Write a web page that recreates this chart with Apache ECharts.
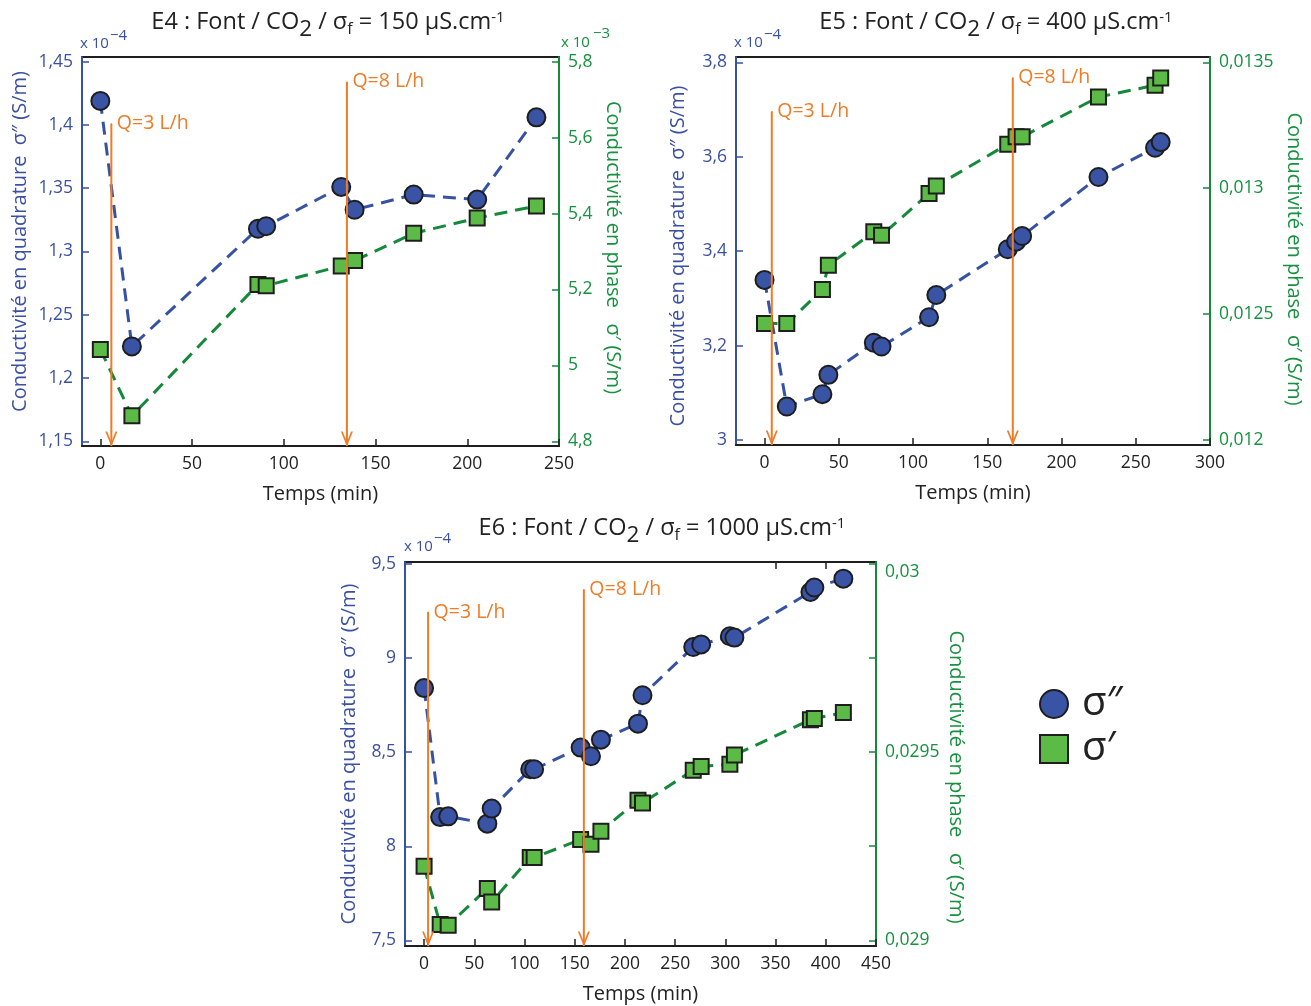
<!DOCTYPE html>
<html><head><meta charset="utf-8">
<script src="https://cdn.jsdelivr.net/npm/echarts@6/dist/echarts.min.js"></script>
<style>html,body{margin:0;padding:0;background:#fff}#c{width:1311px;height:1006px}</style>
</head><body><div id="c"></div>
<script>
// ---------- DATA ----------
// E4 (sigma'' in 1e-4 S/m, sigma' in 1e-3 S/m)
const e4Time  = [0, 17.2, 85.9, 90.4, 131.3, 138.6, 170.8, 205.4, 237.7];
const e4Quad  = [1.419, 1.225, 1.318, 1.320, 1.351, 1.333, 1.345, 1.341, 1.406];
const e4Phase = [5.042, 4.867, 5.213, 5.210, 5.262, 5.276, 5.348, 5.388, 5.420];
const e4FlowTime = [6.0, 134.4];
const e4FlowTop  = [1.401, 1.434];
// E5 (sigma'' in 1e-4 S/m, sigma' in S/m)
const e5Time  = [0, 15, 39, 43, 73.6, 78.8, 110.8, 115.7, 163.8, 169.4, 173.5, 224.9, 263, 266.8];
const e5Quad  = [3.339, 3.071, 3.097, 3.138, 3.206, 3.198, 3.260, 3.307, 3.404, 3.420, 3.432, 3.557, 3.619, 3.631];
const e5Phase = [0.012463, 0.012463, 0.012598, 0.012694, 0.012827, 0.012813, 0.012979, 0.013009, 0.013175, 0.013204, 0.013204, 0.013362, 0.013409, 0.013438];
const e5FlowTime = [4.9, 167.2];
const e5FlowTop  = [3.696, 3.767];
// E6 (sigma'' in 1e-4 S/m, sigma' in S/m)
const e6Time  = [0, 16, 24, 63, 67.3, 105.7, 109.6, 155.9, 166.2, 176.1, 213, 217.5, 268, 275.9, 304.5, 309, 384.7, 388.6, 417.5];
const e6Quad  = [8.840, 8.155, 8.159, 8.120, 8.200, 8.409, 8.409, 8.524, 8.478, 8.566, 8.651, 8.802, 9.058, 9.072, 9.115, 9.108, 9.350, 9.374, 9.421];
const e6Phase = [0.029197, 0.029042, 0.029040, 0.029138, 0.029102, 0.029220, 0.029220, 0.029268, 0.029255, 0.029290, 0.029372, 0.029365, 0.029452, 0.029462, 0.029468, 0.029492, 0.029586, 0.029589, 0.029605];
const e6FlowTime = [4.0, 159.1];
const e6FlowTop  = [9.244, 9.363];

const flowLabels = ['Q=3 L/h', 'Q=8 L/h'];
const seriesNames = ['σ″', 'σ′'];
const panelNames = ['E4', 'E5', 'E6'];
const panelSigmaF = ['150', '400', '1000'];

// tick values
const e4XTicks = [0, 50, 100, 150, 200, 250];
const e4QuadTicks = [1.15, 1.2, 1.25, 1.3, 1.35, 1.4, 1.45];
const e4PhaseTicks = [4.8, 5, 5.2, 5.4, 5.6, 5.8];
const e5XTicks = [0, 50, 100, 150, 200, 250, 300];
const e5QuadTicks = [3, 3.2, 3.4, 3.6, 3.8];
const e5PhaseTicks = [0.012, 0.0125, 0.013, 0.0135];
const e6XTicks = [0, 50, 100, 150, 200, 250, 300, 350, 400, 450];
const e6TopTicks = [350, 400];
const e6QuadTicks = [7.5, 8, 8.5, 9, 9.5];
const e6PhaseTicks = [0.029, 0.02925, 0.0295, 0.02975, 0.03];
const e6PhaseLabels = [0.029, 0.0295, 0.03];

// ---------- STYLE / LAYOUT ----------
const FONT = "'Open Sans', 'Noto Sans', sans-serif";
const BLUE_TXT = '#3b50a3', BLUE_LINE = '#3652a3', BLUE_FILL = '#3a54a5';
const GREEN_TXT = '#16913f', GREEN_LINE = '#15893a', GREEN_FILL = '#5cbb46';
const ORANGE = '#ef7b26', DARK = '#1e1e1e';
const ARROW = 'path://M0,0L6,16L12,0L10.2,0L6,11.2L1.8,0Z';

const panels = [
  { time: e4Time, quad: e4Quad, phase: e4Phase, flowTime: e4FlowTime, flowTop: e4FlowTop,
    xTicks: e4XTicks, quadTicks: e4QuadTicks, phaseTicks: e4PhaseTicks, phaseLabels: e4PhaseTicks,
    xr: [-10, 250], qr: [1.1463, 1.4537], pr: [4.7876, 5.8124],
    grid: { left: 82, top: 57, width: 477, height: 389 },
    lGap: 52, rGap: 44, lPad: [0, 0, 0, 20], rPad: [0, 8, 0, 0],
    title: { x: 328, y: 10 }, topLabelDrop: false },
  { time: e5Time, quad: e5Quad, phase: e5Phase, flowTime: e5FlowTime, flowTop: e5FlowTop,
    xTicks: e5XTicks, quadTicks: e5QuadTicks, phaseTicks: e5PhaseTicks, phaseLabels: e5PhaseTicks,
    xr: [-19.2, 300], qr: [2.9894, 3.8112], pr: [0.0119802, 0.013521],
    grid: { left: 736, top: 57, width: 474, height: 388 },
    lGap: 48, rGap: 74, lPad: [0, 10, 0, 0], rPad: [0, 0, 0, 16],
    title: { x: 996, y: 10 }, topLabelDrop: false },
  { time: e6Time, quad: e6Quad, phase: e6Phase, flowTime: e6FlowTime, flowTop: e6FlowTop,
    xTicks: e6XTicks, quadTicks: e6QuadTicks, phaseTicks: e6PhaseTicks, phaseLabels: e6PhaseLabels,
    xr: [-19, 450], qr: [7.4703, 9.5096], pr: [0.0289851, 0.0300048],
    grid: { left: 405, top: 562, width: 471, height: 384 },
    lGap: 46, rGap: 70, lPad: [0, 0, 0, 0], rPad: [0, 0, 0, 46],
    title: { x: 662, y: 516 }, topLabelDrop: true }
];

const expLabels = [
  { x: 80, y: 44, ex: 110, ey: 36, exp: '−4', color: BLUE_TXT },
  { x: 561, y: 43, ex: 593, ey: 34, exp: '−3', color: GREEN_TXT },
  { x: 734, y: 43, ex: 764, ey: 35, exp: '−4', color: BLUE_TXT },
  { x: 404, y: 547, ex: 434, ey: 539, exp: '−4', color: BLUE_TXT }
];

const fmt = v => String(+Number(v).toFixed(6)).replace('.', ',');

const option = {
  animation: false,
  backgroundColor: '#fff',
  textStyle: { fontFamily: FONT },
  title: [], grid: [], xAxis: [], yAxis: [], series: [],
  legend: {
    data: [{ name: seriesNames[0], icon: 'circle' }, { name: seriesNames[1], icon: 'rect' }],
    orient: 'vertical', left: 1034, top: 679, itemWidth: 28, itemHeight: 28, itemGap: 5,
    selectedMode: false,
    textStyle: { fontSize: 40, color: '#222', fontFamily: FONT, lineHeight: 28, padding: [0, 0, 0, 9] }
  },
  graphic: []
};

const base = { color: '#222', fontFamily: FONT, fontWeight: 'normal', verticalAlign: 'top' };
const richTitle = {
  n: Object.assign({ fontSize: 23.5 }, base),
  s: Object.assign({ fontSize: 22.5, padding: [8, 0, 0, 0] }, base),
  f: Object.assign({ fontSize: 16, padding: [11, 0, 0, 0] }, base),
  p: Object.assign({ fontSize: 15 }, base)
};

panels.forEach((p, k) => {
  option.title.push({
    text: `{n|${panelNames[k]} : Font / CO}{s|2}{n| / σ}{f|f}{n| = ${panelSigmaF[k]} µS.cm}{p|-1}`,
    left: p.title.x, top: p.title.y, textAlign: 'center', padding: 0,
    textStyle: { fontWeight: 'normal', fontSize: 23.5, color: '#222', rich: richTitle }
  });
  option.grid.push(Object.assign({ show: true, borderColor: DARK, borderWidth: 2, backgroundColor: 'transparent' }, p.grid));
  option.xAxis.push({
    gridIndex: k, type: 'value', min: p.xr[0], max: p.xr[1],
    name: 'Temps (min)', nameLocation: 'middle', nameGap: 38,
    nameTextStyle: { fontSize: 20, color: '#222', fontFamily: FONT },
    axisLine: { show: true, onZero: false, lineStyle: { color: DARK, width: 2 } },
    axisTick: { show: true, inside: true, length: 7, customValues: p.xTicks, lineStyle: { color: DARK, width: 1.5 } },
    axisLabel: { customValues: p.xTicks, fontSize: 17.5, color: '#222', margin: 9, fontFamily: FONT },
    splitLine: { show: false }
  });
  const phaseFmt = p.topLabelDrop
    ? (v => (Math.abs(v - p.phaseLabels[p.phaseLabels.length - 1]) < 1e-9 ? '{d|' + fmt(v) + '}' : fmt(v)))
    : fmt;
  option.yAxis.push({
    gridIndex: k, type: 'value', position: 'left', min: p.qr[0], max: p.qr[1],
    name: 'Conductivité en quadrature  σ″ (S/m)', nameLocation: 'middle', nameGap: p.lGap,
    nameTextStyle: { fontSize: 20, color: BLUE_TXT, fontFamily: FONT, padding: p.lPad },
    axisLine: { show: true, onZero: false, lineStyle: { color: BLUE_LINE, width: 2 } },
    axisTick: { show: true, inside: true, length: 7, customValues: p.quadTicks, lineStyle: { color: BLUE_LINE, width: 1.5 } },
    axisLabel: { customValues: p.quadTicks, formatter: fmt, fontSize: 17.5, color: BLUE_TXT, margin: 9, fontFamily: FONT },
    splitLine: { show: false }
  });
  option.yAxis.push({
    gridIndex: k, type: 'value', position: 'right', min: p.pr[0], max: p.pr[1],
    name: 'Conductivité en phase   σ′ (S/m)', nameLocation: 'middle', nameGap: p.rGap, nameRotate: -90,
    nameTextStyle: { fontSize: 20, color: GREEN_TXT, fontFamily: FONT, padding: p.rPad },
    axisLine: { show: true, onZero: false, lineStyle: { color: GREEN_LINE, width: 2 } },
    axisTick: { show: true, inside: true, length: 7, customValues: p.phaseTicks, lineStyle: { color: GREEN_LINE, width: 1.5 } },
    axisLabel: { customValues: p.phaseLabels, formatter: phaseFmt, fontSize: 17.5, color: GREEN_TXT, margin: 9, fontFamily: FONT,
      rich: { d: { fontSize: 17.5, color: GREEN_TXT, fontFamily: FONT, padding: [16, 0, 0, 0] } } },
    splitLine: { show: false }
  });
  option.series.push({
    name: seriesNames[0], type: 'line', xAxisIndex: k, yAxisIndex: 2 * k, z: 3,
    data: p.time.map((t, i) => [t, p.quad[i]]),
    symbol: 'circle', symbolSize: 18,
    itemStyle: { color: BLUE_FILL, borderColor: DARK, borderWidth: 2 },
    lineStyle: { color: BLUE_LINE, width: 3, type: [13, 8] }
  });
  option.series.push({
    name: seriesNames[1], type: 'line', xAxisIndex: k, yAxisIndex: 2 * k + 1, z: 3,
    data: p.time.map((t, i) => [t, p.phase[i]]),
    symbol: 'rect', symbolSize: 15,
    itemStyle: { color: GREEN_FILL, borderColor: DARK, borderWidth: 2 },
    lineStyle: { color: GREEN_LINE, width: 3, type: [13, 8] }
  });
  p.flowTime.forEach((ft, j) => {
    option.series.push({
      name: 'flow' + k + j, type: 'line', xAxisIndex: k, yAxisIndex: 2 * k, z: 6, clip: false, silent: true,
      lineStyle: { color: ORANGE, width: 2 }, itemStyle: { color: ORANGE },
      data: [
        { value: [ft, p.flowTop[j]], symbol: 'rect', symbolSize: 1,
          label: { show: true, position: 'right', distance: 5, formatter: flowLabels[j], color: ORANGE, fontSize: 19.5, fontFamily: FONT } },
        { value: [ft, p.qr[0]], symbol: ARROW, symbolSize: [12, 15], symbolOffset: [0, -7] }
      ]
    });
  });
});

// top-border tick marks visible on E6
option.xAxis.push({
  gridIndex: 2, type: 'value', position: 'top', min: panels[2].xr[0], max: panels[2].xr[1],
  axisLine: { show: false },
  axisTick: { show: true, inside: true, length: 7, customValues: e6TopTicks, lineStyle: { color: DARK, width: 1.5 } },
  axisLabel: { show: false }, splitLine: { show: false }
});

expLabels.forEach(e => {
  option.graphic.push({ type: 'text', x: e.x, y: e.y, style: { text: 'x 10', fill: e.color, fontSize: 15, fontFamily: FONT, verticalAlign: 'middle' } });
  option.graphic.push({ type: 'text', x: e.ex, y: e.ey, style: { text: e.exp, fill: e.color, fontSize: 15, fontFamily: FONT, verticalAlign: 'middle' } });
});

const chart = echarts.init(document.getElementById('c'), null, { renderer: 'canvas' });
chart.setOption(option);
</script></body></html>
